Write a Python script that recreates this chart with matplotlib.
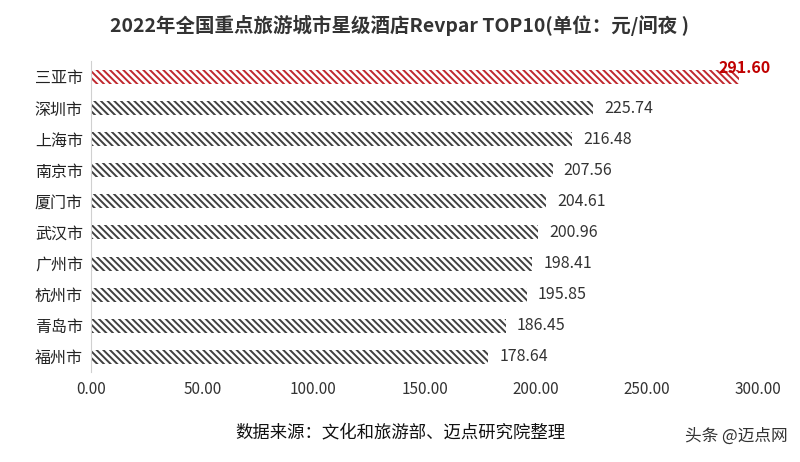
import matplotlib
matplotlib.use("Agg")
import matplotlib.pyplot as plt
plt.rcParams['font.family'] = ['Noto Sans CJK SC', 'DejaVu Sans']
plt.rcParams['hatch.linewidth'] = 1.4

cities = ["三亚市","深圳市","上海市","南京市","厦门市","武汉市","广州市","杭州市","青岛市","福州市"]
values = [291.60,225.74,216.48,207.56,204.61,200.96,198.41,195.85,186.45,178.64]
ticks = [0,50,100,150,200,250,300]

fig = plt.figure(figsize=(8,4.62), dpi=100)
ax = fig.add_axes([0.114,0.194,0.8335,0.673])
y = list(range(len(cities)))
for i,(c,v) in enumerate(zip(cities,values)):
    col = "#c0282e" if i==0 else "#404040"
    ax.barh(i, v, height=0.45, color="white", edgecolor=col, hatch="\\\\\\\\\\", linewidth=0)
    if i == 0:
        ax.text(v+14, i-0.3, f"{v:.2f}", va="center", ha="right",
                fontsize=11.5, color="#c00000", fontweight="bold")
    else:
        ax.text(v+5, i, f"{v:.2f}", va="center", ha="left", fontsize=11.5, color="#333333")
ax.set_ylim(9.5,-0.5)
ax.set_xlim(0,300)
ax.set_yticks(y)
ax.set_yticklabels(cities, fontsize=11.5, color="#222222")
ax.set_xticks(ticks)
ax.set_xticklabels([f"{t:.2f}" for t in ticks], fontsize=11, color="#333333")
for s in ["top","right","bottom"]:
    ax.spines[s].set_visible(False)
ax.spines["left"].set_color("#d0d0d0")
ax.tick_params(length=0, pad=6)
fig.text(0.5,0.945,"2022年全国重点旅游城市星级酒店Revpar TOP10(单位：元/间夜 )",
         ha="center", va="center", fontsize=14, fontweight="bold", color="#333333")
fig.text(0.5,0.065,"数据来源：文化和旅游部、迈点研究院整理", ha="center", va="center",
         fontsize=12.5, color="#111111")
fig.text(0.985,0.055,"头条 @迈点网", ha="right", va="center", fontsize=12, color="#333333")
fig.savefig("out.png", dpi=100)
